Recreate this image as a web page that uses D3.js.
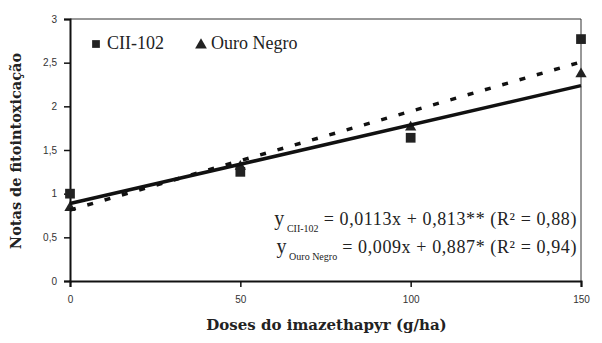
<!DOCTYPE html>
<html>
<head>
<meta charset="utf-8">
<script src="https://cdn.jsdelivr.net/npm/d3@7"></script>
<style>
  body { margin: 0; background: #fff; }
</style>
</head>
<body>
<div id="chart"></div>
<script>
let doses = [0, 50, 100, 150];
let cii102 = [1.0, 1.25, 1.64, 2.77];
let ouroNegro = [0.84, 1.31, 1.76, 2.37];
let yTicks = [0, 0.5, 1, 1.5, 2, 2.5, 3];
let xTicks = [0, 50, 100, 150];
// regression coefficients from the equations printed on the chart
let fitCii = {a: 0.0113, b: 0.813};
let fitOuro = {a: 0.009, b: 0.887};

let margin = {top: 19, right: 21, bottom: 62, left: 70},
    width = 602 - margin.left - margin.right,
    height = 343 - margin.top - margin.bottom;

let svg = d3.select("#chart")
    .append("svg")
    .attr("width", 602)
    .attr("height", 343)
    .append("g")
    .attr("transform", "translate(" + margin.left + "," + margin.top + ")");

let x = d3.scaleLinear().domain([0, 150]).range([0, width]);
let y = d3.scaleLinear().domain([0, 3]).range([height, 0]);

let fmt = function (d) { return String(d).replace(".", ","); };

// frame top and right
svg.append("path")
    .attr("d", "M0,0H" + width + "V" + height)
    .attr("fill", "none")
    .attr("stroke", "#333")
    .attr("stroke-width", 1);

let xAxis = svg.append("g")
    .attr("transform", "translate(0," + height + ")")
    .call(d3.axisBottom(x).tickValues(xTicks).tickSize(6).tickPadding(9).tickFormat(fmt));

let yAxis = svg.append("g")
    .call(d3.axisLeft(y).tickValues(yTicks).tickSize(6).tickPadding(7).tickFormat(fmt));

[xAxis, yAxis].forEach(function (g) {
    g.select(".domain").attr("stroke", "#111").attr("stroke-width", 2);
    g.selectAll(".tick line").attr("stroke", "#111").attr("stroke-width", 1.5);
    g.selectAll(".tick text")
        .attr("fill", "#333")
        .style("font-family", "Liberation Sans, Arial, sans-serif")
        .style("font-size", "10px");
});

// points drawn under the lines
let sq = d3.symbol().type(d3.symbolSquare).size(95);
let tri = d3.symbol().type(d3.symbolTriangle).size(55);

svg.selectAll(".ouro")
    .data(doses)
    .enter()
    .append("path")
    .attr("class", "ouro")
    .attr("d", tri)
    .attr("transform", function (d, i) { return "translate(" + x(d) + "," + y(ouroNegro[i]) + ")"; })
    .attr("fill", "#222");

// regression lines
let line = d3.line()
    .x(function (d) { return x(d[0]); })
    .y(function (d) { return y(d[1]); });

svg.append("path")
    .datum([[0, fitCii.b], [150, fitCii.a * 150 + fitCii.b]])
    .attr("d", line)
    .attr("fill", "none")
    .attr("stroke", "#111")
    .attr("stroke-width", 3.5)
    .attr("stroke-dasharray", "6,12");

svg.append("path")
    .datum([[0, fitOuro.b], [150, fitOuro.a * 150 + fitOuro.b]])
    .attr("d", line)
    .attr("fill", "none")
    .attr("stroke", "#111")
    .attr("stroke-width", 3.5);

svg.selectAll(".cii")
    .data(doses)
    .enter()
    .append("path")
    .attr("class", "cii")
    .attr("d", sq)
    .attr("transform", function (d, i) { return "translate(" + x(d) + "," + y(cii102[i]) + ")"; })
    .attr("fill", "#222");

// legend
let serif = "Liberation Serif, Times New Roman, serif";
let legend = svg.append("g").attr("transform", "translate(0,24)");
legend.append("path").attr("d", d3.symbol().type(d3.symbolSquare).size(60)).attr("transform", "translate(26,1)").attr("fill", "#222");
legend.append("text").attr("x", 37).attr("y", 6).text("CII-102")
    .style("font-family", serif).style("font-size", "18px").attr("fill", "#222");
legend.append("path").attr("d", d3.symbol().type(d3.symbolTriangle).size(60)).attr("transform", "translate(131,2)").attr("fill", "#222");
legend.append("text").attr("x", 141).attr("y", 6).text("Ouro Negro")
    .style("font-family", serif).style("font-size", "18px").attr("fill", "#222");

// equations
let eqs = [
    {sub: "CII-102", rest: " = 0,0113x + 0,813** (R² = 0,88)", yy: 206},
    {sub: "Ouro Negro", rest: " = 0,009x + 0,887* (R² = 0,94)", yy: 234}
];
eqs.forEach(function (e) {
    let t = svg.append("text")
        .attr("x", width - 4)
        .attr("y", e.yy)
        .attr("text-anchor", "end")
        .style("font-family", serif)
        .style("font-size", "18px")
        .style("letter-spacing", "0.6px")
        .attr("fill", "#222");
    t.append("tspan").text("y").style("font-size", "20px");
    t.append("tspan").text(e.sub).attr("dx", 2).attr("dy", 7).style("font-size", "10px").style("letter-spacing", "0px");
    t.append("tspan").text(e.rest).attr("dy", -7);
});

// axis titles
svg.append("text")
    .attr("x", width / 2 + 1)
    .attr("y", height + 49)
    .attr("text-anchor", "middle")
    .style("font-family", "DejaVu Serif, serif")
    .style("font-weight", "bold")
    .style("font-size", "15px")
    .attr("fill", "#222")
    .text("Doses do imazethapyr (g/ha)");

svg.append("text")
    .attr("transform", "translate(-49," + (height / 2 + 1) + ") rotate(-90)")
    .attr("text-anchor", "middle")
    .style("font-family", "DejaVu Serif, serif")
    .style("font-weight", "bold")
    .style("font-size", "14.5px")
    .attr("fill", "#222")
    .text("Notas de fitointoxicação");
</script>
</body>
</html>
